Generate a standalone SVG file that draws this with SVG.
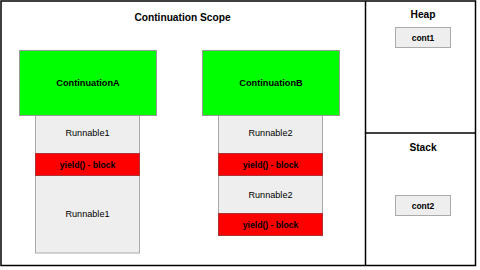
<svg xmlns="http://www.w3.org/2000/svg" width="480" height="270" viewBox="0 0 480 270">
<style>
text{font-family:"Liberation Sans",Arial,sans-serif;text-anchor:middle;dominant-baseline:central;fill:#000}
.title{font-size:10.2px;font-weight:bold}
.cont{fill:#00ff00;stroke:#999;stroke-width:1}
.run{fill:#eeeeee;stroke:#aaa;stroke-width:1}
.red{fill:#ff0000;stroke:#a33;stroke-width:1}
.box{fill:#eeeeee;stroke:#aaa;stroke-width:1}
.line{stroke:#000;stroke-width:1.5;fill:none}
.rt{font-size:9.1px}
.yt{font-size:8.6px;font-weight:bold}
.ct{font-size:9.2px;font-weight:bold}
.bt{font-size:8.5px;font-weight:bold}
</style>
<rect width="480" height="270" fill="#fff"/>
<g id="frame">
<rect class="line" x="1" y="1" width="474.5" height="264.5"/>
<line class="line" x1="365.5" y1="1" x2="365.5" y2="265.5"/>
<line class="line" x1="365.5" y1="133" x2="475.5" y2="133"/>
<text class="title" x="182.5" y="17">Continuation Scope</text>
<text class="title" x="423" y="14.5">Heap</text>
<text class="title" x="423" y="147.5">Stack</text>
</g>
<g id="colA">
<rect class="run" x="35.5" y="115.5" width="104" height="137.5"/>
<rect class="red" x="35.5" y="153.5" width="104" height="22"/>
<text class="rt" x="87.5" y="133">Runnable1</text>
<text class="yt" x="87.5" y="164.5">yield() - block</text>
<text class="rt" x="87.5" y="214">Runnable1</text>
</g>
<g id="continuationA">
<rect class="cont" x="19.5" y="50.5" width="137" height="65"/>
<text class="ct" x="88" y="82.5">ContinuationA</text>
</g>
<g id="colB">
<rect class="run" x="218.5" y="115.5" width="104" height="120"/>
<rect class="red" x="218.5" y="153.5" width="104" height="22"/>
<rect class="red" x="218.5" y="213.5" width="104" height="22"/>
<text class="rt" x="270.5" y="133">Runnable2</text>
<text class="yt" x="270.5" y="164.5">yield() - block</text>
<text class="rt" x="270.5" y="194.5">Runnable2</text>
<text class="yt" x="270.5" y="224.5">yield() - block</text>
</g>
<g id="continuationB">
<rect class="cont" x="202.5" y="50.5" width="137" height="65"/>
<text class="ct" x="271" y="82.5">ContinuationB</text>
</g>
<g id="cont1">
<rect class="box" x="395.5" y="27.5" width="55" height="20"/>
<text class="bt" x="423" y="37.5">cont1</text>
</g>
<g id="cont2">
<rect class="box" x="395.5" y="195.5" width="55" height="20"/>
<text class="bt" x="423" y="205.5">cont2</text>
</g>
<g id="connectors"></g>
</svg>
